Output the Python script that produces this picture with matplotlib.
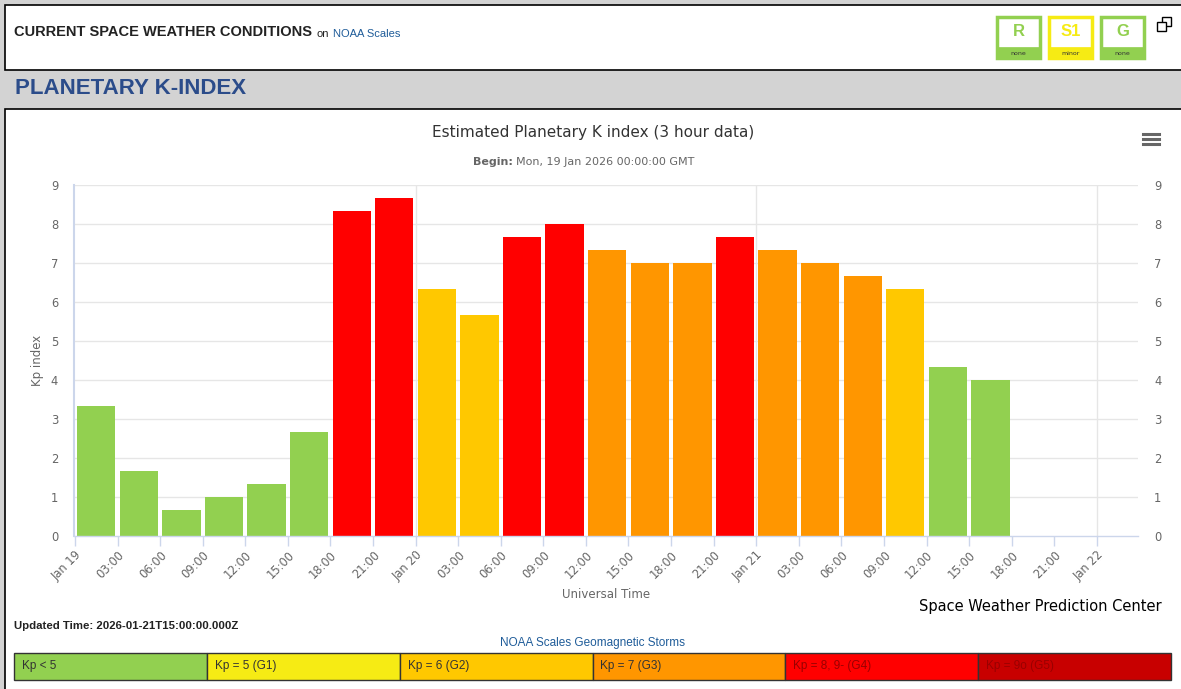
import matplotlib.pyplot as plt
from matplotlib.patches import Rectangle
from matplotlib.lines import Line2D
import numpy as np

W, H = 1181, 689

# Kp values for each 3 hour interval starting Mon 19 Jan 2026 00:00 UT
kp_values = [3.33, 1.67, 0.67, 1.0, 1.33, 2.67, 8.33, 8.67,
             6.33, 5.67, 7.67, 8.0, 7.33, 7.0, 7.0, 7.67,
             7.33, 7.0, 6.67, 6.33, 4.33, 4.0]
start_hours = np.arange(len(kp_values)) * 3

tick_hours = np.arange(0, 73, 3)
tick_labels = ['Jan 19', '03:00', '06:00', '09:00', '12:00', '15:00', '18:00', '21:00',
               'Jan 20', '03:00', '06:00', '09:00', '12:00', '15:00', '18:00', '21:00',
               'Jan 21', '03:00', '06:00', '09:00', '12:00', '15:00', '18:00', '21:00',
               'Jan 22']

scale_labels = ['Kp < 5', 'Kp = 5 (G1)', 'Kp = 6 (G2)', 'Kp = 7 (G3)',
                'Kp = 8, 9- (G4)', 'Kp = 9o (G5)']
scale_colors = ['#92D050', '#F6EB14', '#FFC800', '#FF9600', '#FF0000', '#C80000']
scale_limits = [4.5, 5.5, 6.5, 7.5, 8.8, 99]


def kp_color(v):
    for lim, c in zip(scale_limits, scale_colors):
        if v < lim:
            return c
    return scale_colors[-1]


def fx(x):
    return x / W


def fy(y):
    return 1 - y / H


def box(x0, y0, x1, y1, **kw):
    fig.patches.append(Rectangle((fx(x0), fy(y1)), (x1 - x0) / W, (y1 - y0) / H,
                                 transform=fig.transFigure, zorder=-1, **kw))


fig = plt.figure(figsize=(W / 100, H / 100), dpi=100, facecolor='#D3D3D3')

# page boxes
box(4.5, 5.5, 1190, 69.5, facecolor='white', edgecolor='black', lw=1.2)
box(4.5, 108.5, 1190, 700, facecolor='white', edgecolor='black', lw=1.2)

# chart
ax = fig.add_axes([fx(74), fy(536), (1138 - 74) / W, (536 - 185) / H])
ax.set_zorder(5)
ax.set_facecolor('white')
for v in range(1, 10):
    ax.axhline(v, color='#E6E6E6', lw=1, zorder=0)
for d in (24, 48, 72):
    ax.axvline(d, color='#E6E6E6', lw=1, zorder=0)

ax.bar(start_hours + 1.5, kp_values, width=2.7,
       color=[kp_color(v) for v in kp_values], zorder=2)

ax.set_xlim(-0.07, 74.9)
ax.set_ylim(0, 9)
ax.set_yticks(range(10))
ax.set_xticks(tick_hours)
ax.set_xticklabels(tick_labels, rotation=45, ha='right', rotation_mode='anchor')
for s in ('top', 'right'):
    ax.spines[s].set_visible(False)
ax.spines['left'].set_color('#CCD6EB')
ax.spines['left'].set_linewidth(1.5)
ax.spines['bottom'].set_color('#CCD6EB')
ax.spines['bottom'].set_linewidth(1)
ax.tick_params(axis='x', colors='#CCD6EB', length=7, width=1, labelcolor='#666666',
               labelsize=8.3, pad=2)
ax.tick_params(axis='y', left=False, right=False, labelleft=True, labelright=True,
               labelcolor='#666666', labelsize=8.3, pad=8)
ax.set_ylabel('Kp index', color='#666666', fontsize=8.5, labelpad=5)
ax.set_xlabel('Universal Time', color='#666666', fontsize=8.5, labelpad=3.5)

# header
head = fig.text(fx(14), fy(32), 'CURRENT SPACE WEATHER CONDITIONS', fontsize=10.5, weight='bold',
                family='Liberation Sans', color='#222222', va='center')
ax.annotate('on', xy=(1, 0), xycoords=head, xytext=(3, 0), textcoords='offset points',
            fontsize=8, family='Liberation Sans', color='#222222', va='bottom',
            annotation_clip=False)
ax.annotate('NOAA Scales', xy=(1, 0), xycoords=head, xytext=(15, 0), textcoords='offset points',
            fontsize=8, family='Liberation Sans', color='#1F5C99', va='bottom',
            annotation_clip=False)

# R / S1 / G badges
badges = [('R', 'none', '#92D050', 996), ('S1', 'minor', '#F6EB14', 1048), ('G', 'none', '#92D050', 1100)]
for letter, word, col, x0 in badges:
    box(x0 + 1, 17, x0 + 44, 58, facecolor='white', edgecolor=col, lw=2.5)
    box(x0, 47, x0 + 45, 59, facecolor=col, edgecolor=col, lw=0.5)
    fig.text(fx(x0 + 22.5), fy(31), letter, fontsize=12, weight='bold', color=col,
             ha='center', va='center', family='Liberation Sans')
    fig.text(fx(x0 + 22.5), fy(53.5), word, fontsize=4.5, color='#333333',
             ha='center', va='center')

# pop-out icon
box(1162, 17, 1171, 26, facecolor='white', edgecolor='black', lw=1)
box(1157, 22, 1166, 31, facecolor='white', edgecolor='black', lw=1)

fig.text(fx(15), fy(88), 'PLANETARY K-INDEX', fontsize=16, weight='bold', color='#2B4C8A',
         va='center', family='Liberation Sans')

# hamburger menu
for yy in (134, 139, 144):
    fig.lines.append(Line2D([fx(1143), fx(1159)], [fy(yy), fy(yy)], color='#666666', lw=2.2,
                            transform=fig.transFigure))

fig.text(fx(593), fy(133), 'Estimated Planetary K index (3 hour data)', fontsize=11,
         color='#333333', ha='center', va='center')
fig.text(fx(513), fy(162), 'Begin:', fontsize=8, weight='bold', color='#666666',
         ha='right', va='center')
fig.text(fx(516), fy(162), 'Mon, 19 Jan 2026 00:00:00 GMT', fontsize=8, color='#666666',
         ha='left', va='center')
fig.text(fx(1162), fy(606), 'Space Weather Prediction Center', fontsize=10.5, color='black',
         ha='right', va='center')

fig.text(fx(14), fy(626), 'Updated Time: 2026-01-21T15:00:00.000Z', fontsize=8.2, weight='bold',
         color='#222222', va='center', family='Liberation Sans')
fig.text(fx(592), fy(643), 'NOAA Scales Geomagnetic Storms', fontsize=8.5, color='#1F5C99',
         ha='center', va='center', family='Liberation Sans')

# NOAA scale strip
x_left, x_right = 14, 1171
cell = (x_right - x_left) / len(scale_labels)
for i, (lab, col) in enumerate(zip(scale_labels, scale_colors)):
    x0 = x_left + i * cell
    box(x0, 653, x0 + cell, 680, facecolor=col, edgecolor='#333333', lw=1)
    tc = '#333333' if i < 4 else '#990000'
    fig.text(fx(x0 + 8), fy(666.5), lab, fontsize=8.5, color=tc, va='center',
             family='Liberation Sans')

fig.savefig('out.png', dpi=100, facecolor=fig.get_facecolor())
